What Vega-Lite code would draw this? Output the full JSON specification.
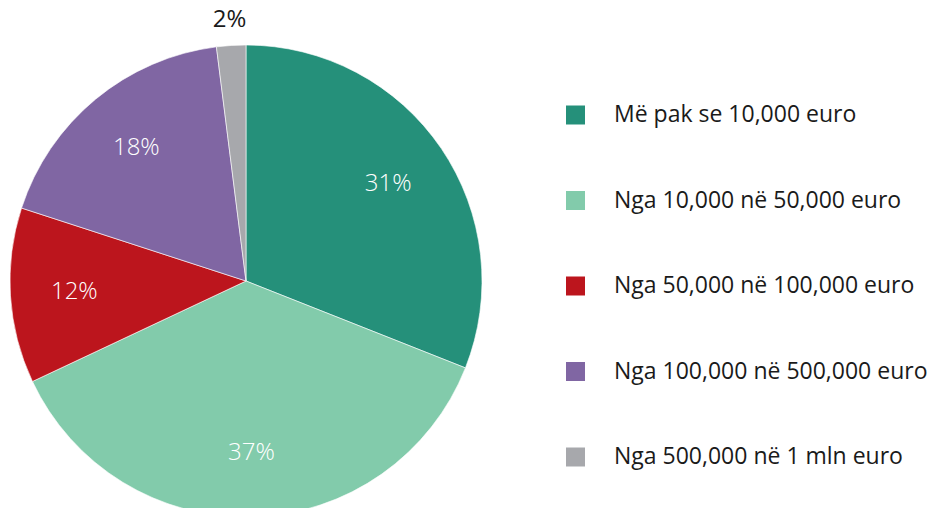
{
  "$schema": "https://vega.github.io/schema/vega-lite/v6.json",
  "autosize": {"type": "none"},
  "width": 492,
  "height": 454,
  "padding": {"left": 0, "top": 54, "right": 458, "bottom": 0},
  "background": "white",
  "config": {"view": {"stroke": null}, "font": "Open Sans"},
  "data": {
    "values": [
      {"cat": "Më pak se 10,000 euro", "share": 0.31, "ord": 1},
      {"cat": "Nga 10,000 në  50,000 euro", "share": 0.37, "ord": 2},
      {"cat": "Nga 50,000 në  100,000 euro", "share": 0.12, "ord": 3},
      {"cat": "Nga 100,000 në  500,000 euro", "share": 0.18, "ord": 4},
      {"cat": "Nga 500,000 në 1 mln euro", "share": 0.02, "ord": 5}
    ]
  },
  "encoding": {
    "theta": {"field": "share", "type": "quantitative", "stack": true},
    "order": {"field": "ord", "type": "quantitative"}
  },
  "layer": [
    {
      "mark": {"type": "arc", "radius": 236, "stroke": "white", "strokeWidth": 0.6},
      "encoding": {
        "color": {
          "field": "cat",
          "type": "nominal",
          "sort": null,
          "scale": {
            "domain": ["Më pak se 10,000 euro", "Nga 10,000 në  50,000 euro", "Nga 50,000 në  100,000 euro", "Nga 100,000 në  500,000 euro", "Nga 500,000 në 1 mln euro"],
            "range": ["#25907a", "#82cbab", "#bc151d", "#8066a3", "#a7a8ac"]
          },
          "legend": {
            "title": null,
            "orient": "none",
            "legendX": 564,
            "legendY": 49.5,
            "symbolType": "square",
            "symbolSize": 361,
            "symbolStrokeWidth": 0,
            "labelFontSize": 23,
            "labelFont": "Open Sans",
            "labelColor": "#1a1a1a",
            "labelOffset": 27,
            "rowPadding": 61.5,
            "padding": 0,
            "labelLimit": 400
          }
        }
      }
    },
    {
      "mark": {"type": "text", "fontSize": 24, "font": "Open Sans", "fontWeight": 300, "radius": 172, "color": "white"},
      "encoding": {
        "text": {"field": "share", "type": "quantitative", "format": ".0%"},
        "opacity": {"condition": {"test": "datum.share < 0.05", "value": 0}, "value": 1}
      }
    },
    {
      "mark": {"type": "text", "fontSize": 24, "font": "Open Sans", "fontWeight": 400, "radius": 262, "color": "#1a1a1a"},
      "encoding": {
        "text": {"field": "share", "type": "quantitative", "format": ".0%"},
        "opacity": {"condition": {"test": "datum.share < 0.05", "value": 1}, "value": 0}
      }
    }
  ]
}
